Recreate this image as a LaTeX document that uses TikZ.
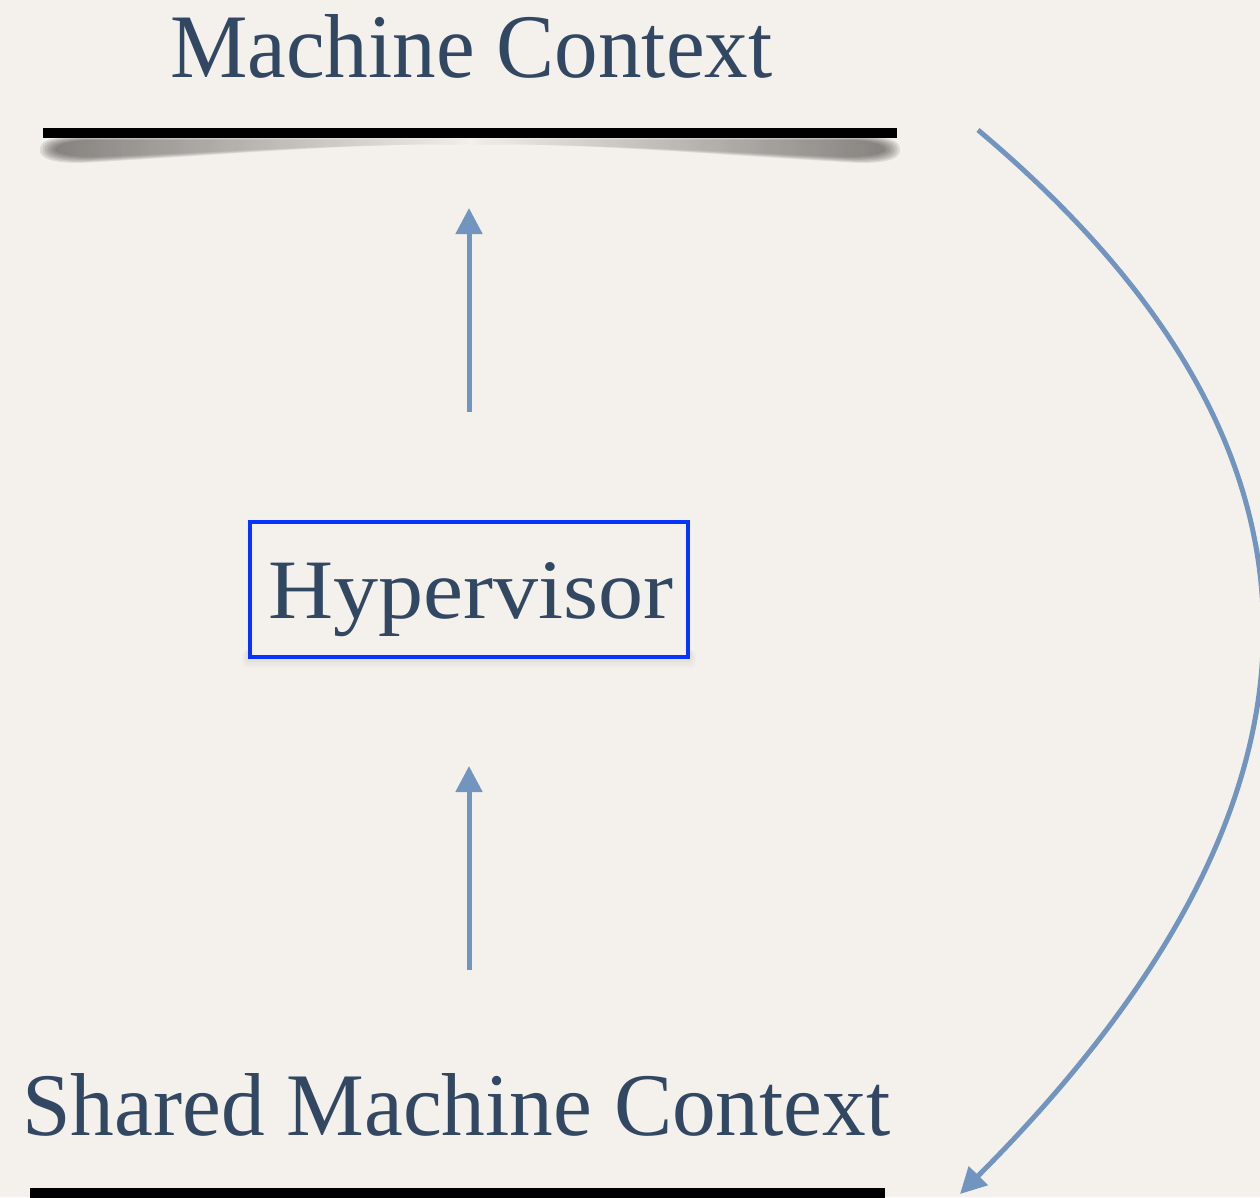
\documentclass[tikz,border=0pt]{standalone}
\usepackage{fontspec}
\setmainfont{Liberation Serif}
\usetikzlibrary{arrows.meta}

\definecolor{paper}{RGB}{244,241,236}
\definecolor{ink}{RGB}{50,72,98}
\definecolor{flow}{RGB}{114,149,191}
\definecolor{frame}{RGB}{8,52,255}
\definecolor{shadowgray}{RGB}{60,58,55}

\tikzset{
  label text/.style={anchor=base west, inner sep=0pt, text=ink},
  bar/.style={line width=10.5pt, black},
  flowarrow/.style={draw=flow, line width=5pt,
    -{Triangle[length=26pt, width=26pt]}},
  hvbox/.style={draw=frame, line width=4pt, minimum width=438pt,
    minimum height=135pt, inner sep=0pt},
}

\begin{document}
\begin{tikzpicture}[x=1pt, y=-1pt]
  % page and background
  \useasboundingbox (0,0) rectangle (1260,1197);
  \fill[paper] (0,0) rectangle (1260,1197);

  % --- top: Machine Context with its bar ---
  \node[label text] (mc) at (170,77)
    {\resizebox{602pt}{63pt}{Machine Context}};

  % soft shadow below the top bar: nested layers, darker towards the ends
  \foreach \s in {0,...,6} {
    \pgfmathsetmacro{\L}{40+2.5*\s}
    \pgfmathsetmacro{\R}{900-2.5*\s}
    \shade[left color=shadowgray, right color=shadowgray, middle color=paper,
           opacity=0.12]
      (\L,150) .. controls (\L,140+\s) and (\L+10,137+0.5*\s) .. (\L+40,137+0.5*\s)
      -- (\R-40,137+0.5*\s)
      .. controls (\R-10,137+0.5*\s) and (\R,140+\s) .. (\R,150)
      .. controls (\R,158-\s) and (\R-10,163-\s) .. (\R-40,163-\s)
      .. controls (700,154-0.5*\s) and (600,144) .. (470,144)
      .. controls (340,144) and (240,154-0.5*\s) .. (\L+40,163-\s)
      .. controls (\L+10,163-\s) and (\L,158-\s) .. (\L,150) -- cycle;
  }
  \coordinate (topL) at (43,133);
  \coordinate (topR) at (897,133);
  \draw[bar] (topL) -- (topR);

  % --- middle: the Hypervisor box with a faint shadow ---
  \foreach \s in {0,...,4} {
    \fill[black, opacity=0.012, rounded corners=4pt]
      (246-\s,650) rectangle (692+\s,662+1.5*\s);
  }
  \node[hvbox, fill=paper] (hyp) at (469,589.5) {};
  \node[label text] (hyptext) at (268,618)
    {\resizebox{405pt}{56pt}{Hypervisor}};

  % --- bottom: Shared Machine Context with its bar ---
  \node[label text] (smc) at (22,1135)
    {\resizebox{868pt}{62pt}{Shared Machine Context}};
  \coordinate (botL) at (30,1193);
  \coordinate (botR) at (885,1193);
  \draw[bar] (botL) -- (botR);

  % --- flow arrows ---
  \coordinate (upA0) at (469,412);
  \coordinate (upA1) at (469,208);
  \draw[flowarrow] (upA0) -- (upA1);

  \coordinate (upB0) at (469,970);
  \coordinate (upB1) at (469,766);
  \draw[flowarrow] (upB0) -- (upB1);

  % return path from the top context down to the shared one
  \coordinate (ret0) at (978,130);
  \coordinate (ret1) at (960,1194);
  \draw[flowarrow] (ret0) .. controls (1361,452) and (1356,797) .. (ret1);
\end{tikzpicture}
\end{document}
